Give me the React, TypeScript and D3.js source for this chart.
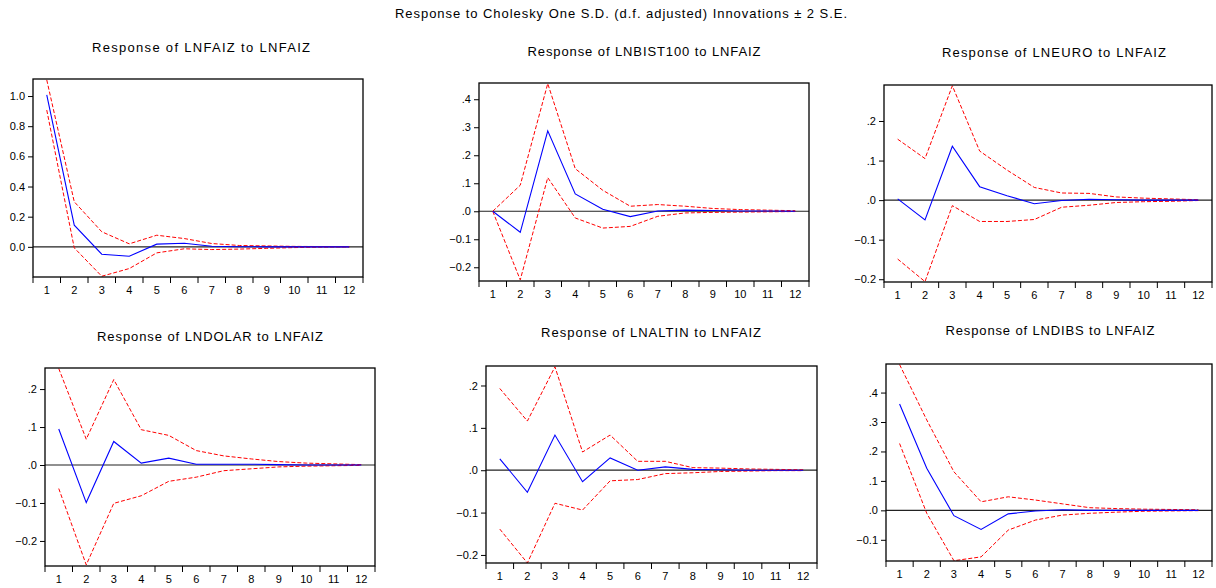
import React, { useEffect, useRef } from 'react';
import * as d3 from 'd3';

// periods 1..12
const periods = ['1', '2', '3', '4', '5', '6', '7', '8', '9', '10', '11', '12'];

// Response of LNFAIZ
const faizResp = [1.007, 0.144, -0.049, -0.062, 0.018, 0.024, 0.004, 0.001, 0.0, 0.0, 0.0, 0.0];
const faizUpper = [1.107, 0.299, 0.100, 0.020, 0.077, 0.055, 0.022, 0.009, 0.006, 0.003, 0.002, 0.001];
const faizLower = [0.907, -0.007, -0.195, -0.144, -0.040, -0.013, -0.018, -0.015, -0.010, -0.005, -0.002, -0.001];

// Response of LNBIST100
const bistResp = [0.0, -0.075, 0.287, 0.062, 0.007, -0.019, 0.001, 0.004, 0.003, 0.001, 0.001, 0.0];
const bistUpper = [0.0, 0.093, 0.456, 0.152, 0.075, 0.018, 0.024, 0.018, 0.010, 0.006, 0.004, 0.002];
const bistLower = [0.0, -0.245, 0.120, -0.024, -0.060, -0.054, -0.018, -0.006, -0.004, -0.003, -0.002, -0.001];

// Response of LNEURO
const euroResp = [0.003, -0.050, 0.136, 0.034, 0.011, -0.009, -0.001, 0.002, 0.001, 0.0, 0.0, 0.0];
const euroUpper = [0.154, 0.105, 0.289, 0.124, 0.076, 0.032, 0.018, 0.017, 0.008, 0.005, 0.003, 0.001];
const euroLower = [-0.149, -0.206, -0.014, -0.054, -0.054, -0.049, -0.018, -0.013, -0.006, -0.004, -0.003, -0.001];

// Response of LNDOLAR
const dolarResp = [0.095, -0.099, 0.062, 0.005, 0.018, 0.002, 0.002, 0.002, 0.001, 0.0, 0.0, 0.0];
const dolarUpper = [0.254, 0.068, 0.225, 0.093, 0.078, 0.038, 0.024, 0.016, 0.009, 0.005, 0.003, 0.001];
const dolarLower = [-0.062, -0.263, -0.101, -0.081, -0.043, -0.032, -0.015, -0.010, -0.005, -0.003, -0.002, -0.001];

// Response of LNALTIN
const altinResp = [0.027, -0.052, 0.083, -0.027, 0.029, 0.0, 0.008, 0.002, 0.001, 0.0, 0.0, 0.0];
const altinUpper = [0.193, 0.116, 0.244, 0.043, 0.083, 0.021, 0.021, 0.006, 0.005, 0.003, 0.002, 0.001];
const altinLower = [-0.139, -0.219, -0.078, -0.094, -0.025, -0.022, -0.008, -0.006, -0.003, -0.002, -0.001, -0.001];

// Response of LNDIBS
const dibsResp = [0.361, 0.143, -0.018, -0.065, -0.012, -0.002, 0.002, 0.0, 0.0, 0.0, 0.0, 0.0];
const dibsUpper = [0.495, 0.307, 0.131, 0.029, 0.046, 0.035, 0.022, 0.009, 0.006, 0.004, 0.003, 0.002];
const dibsLower = [0.227, -0.010, -0.171, -0.158, -0.067, -0.033, -0.016, -0.010, -0.006, -0.003, -0.002, -0.001];

// y tick values
const faizTicks = [0.0, 0.2, 0.4, 0.6, 0.8, 1.0];
const bistTicks = [-0.2, -0.1, 0.0, 0.1, 0.2, 0.3, 0.4];
const euroTicks = [-0.2, -0.1, 0.0, 0.1, 0.2];
const dolarTicks = [-0.2, -0.1, 0.0, 0.1, 0.2];
const altinTicks = [-0.2, -0.1, 0.0, 0.1, 0.2];
const dibsTicks = [-0.1, 0.0, 0.1, 0.2, 0.3, 0.4];

const mainTitle = 'Response to Cholesky One S.D. (d.f. adjusted) Innovations \u00b1 2 S.E.';

const FONT = '"Liberation Sans", Arial, sans-serif';

const App = () => {
  const svgRef = useRef(null);

  useEffect(() => {
    document.body.style.margin = '0';
    const svg = d3.select(svgRef.current);
    svg.selectAll('*').remove();

    const width = 1216;
    const height = 588;
    svg.attr('width', width).attr('height', height);

    svg.append('rect').attr('width', width).attr('height', height).attr('fill', '#fff');

    svg.append('text')
      .attr('x', 621)
      .attr('y', 18)
      .attr('text-anchor', 'middle')
      .attr('textLength', 452)
      .attr('lengthAdjust', 'spacing')
      .style('font-family', FONT)
      .style('font-size', '13px')
      .text(mainTitle);

    const leadFmt = d => {
      const s = d3.format('.1f')(d);
      return s.replace(/^(-?)0\./, '$1.');
    };
    const plainFmt = d3.format('.1f');

    // frame boxes of each panel (left, right, top, bottom), y domain
    const panels = [
      { title: 'Response of LNFAIZ to LNFAIZ', tx: 201, ty: 52, tw: 218, box: [33, 363, 79, 277], dom: [-0.2, 1.113], ticks: faizTicks, fmt: plainFmt, resp: faizResp, up: faizUpper, lo: faizLower },
      { title: 'Response of LNBIST100 to LNFAIZ', tx: 644, ty: 56, tw: 233, box: [479, 809, 83, 281], dom: [-0.249, 0.458], ticks: bistTicks, fmt: leadFmt, resp: bistResp, up: bistUpper, lo: bistLower },
      { title: 'Response of LNEURO to LNFAIZ', tx: 1054, ty: 57, tw: 224, box: [884, 1212, 85, 282], dom: [-0.207, 0.291], ticks: euroTicks, fmt: leadFmt, resp: euroResp, up: euroUpper, lo: euroLower },
      { title: 'Response of LNDOLAR to LNFAIZ', tx: 210, ty: 341, tw: 226, box: [45, 375, 368, 566], dom: [-0.266, 0.2555], ticks: dolarTicks, fmt: leadFmt, resp: dolarResp, up: dolarUpper, lo: dolarLower },
      { title: 'Response of LNALTIN to LNFAIZ', tx: 651, ty: 337, tw: 220, box: [486, 817, 366, 563], dom: [-0.219, 0.246], ticks: altinTicks, fmt: leadFmt, resp: altinResp, up: altinUpper, lo: altinLower },
      { title: 'Response of LNDIBS to LNFAIZ', tx: 1050, ty: 335, tw: 209, box: [886, 1212, 364, 561], dom: [-0.172, 0.497], ticks: dibsTicks, fmt: leadFmt, resp: dibsResp, up: dibsUpper, lo: dibsLower },
    ];

    panels.forEach((p, i) => {
      const [x0, x1, y0, y1] = p.box;
      const x = d3.scaleBand().domain(periods).range([x0, x1]);
      const y = d3.scaleLinear().domain(p.dom).range([y1, y0]);
      const cx = (d, j) => x(periods[j]) + x.bandwidth() / 2;

      svg.append('text')
        .attr('x', p.tx)
        .attr('y', p.ty)
        .attr('text-anchor', 'middle')
        .attr('textLength', p.tw)
        .attr('lengthAdjust', 'spacing')
        .style('font-family', FONT)
        .style('font-size', '13px')
        .text(p.title);

      const clipId = `clip-${i}`;
      svg.append('clipPath').attr('id', clipId)
        .append('rect')
        .attr('x', x0).attr('y', y0)
        .attr('width', x1 - x0).attr('height', y1 - y0);

      const g = svg.append('g').attr('clip-path', `url(#${clipId})`);

      // zero line
      g.append('line')
        .attr('x1', x0).attr('x2', x1)
        .attr('y1', y(0)).attr('y2', y(0))
        .attr('stroke', '#222')
        .attr('stroke-width', 1.2);

      const line = d3.line().x(cx).y(d => y(d));

      [p.up, p.lo].forEach(band => {
        g.append('path')
          .datum(band)
          .attr('d', line)
          .attr('fill', 'none')
          .attr('stroke', '#ff0000')
          .attr('stroke-width', 1)
          .attr('stroke-dasharray', '4,2');
      });

      g.append('path')
        .datum(p.resp)
        .attr('d', line)
        .attr('fill', 'none')
        .attr('stroke', '#0000ff')
        .attr('stroke-width', 1.1);

      // frame
      svg.append('rect')
        .attr('x', x0).attr('y', y0)
        .attr('width', x1 - x0).attr('height', y1 - y0)
        .attr('fill', 'none')
        .attr('stroke', '#000')
        .attr('stroke-width', 1.3);

      // y axis
      const yAxis = d3.axisLeft(y)
        .tickValues(p.ticks)
        .tickFormat(p.fmt)
        .tickSize(5)
        .tickPadding(3);
      const ya = svg.append('g')
        .attr('transform', `translate(${x0},0)`)
        .call(yAxis);
      ya.select('.domain').remove();
      ya.selectAll('text')
        .style('font-family', FONT)
        .style('font-size', '11px')
        .attr('fill', '#000');

      // x axis: ticks at band edges, labels at band centres
      const edges = periods.map(d => x(d)).concat([x1]);
      const xa = svg.append('g');
      xa.selectAll('line')
        .data(edges)
        .enter()
        .append('line')
        .attr('x1', d => d).attr('x2', d => d)
        .attr('y1', y1).attr('y2', y1 + 6)
        .attr('stroke', '#000');
      xa.selectAll('text')
        .data(periods)
        .enter()
        .append('text')
        .attr('x', d => x(d) + x.bandwidth() / 2)
        .attr('y', y1 + 17)
        .attr('text-anchor', 'middle')
        .style('font-family', FONT)
        .style('font-size', '11px')
        .text(d => d);
    });
  }, []);

  return (
    <div>
      <svg ref={svgRef} style={{ display: 'block' }}></svg>
    </div>
  );
};

export default App;
